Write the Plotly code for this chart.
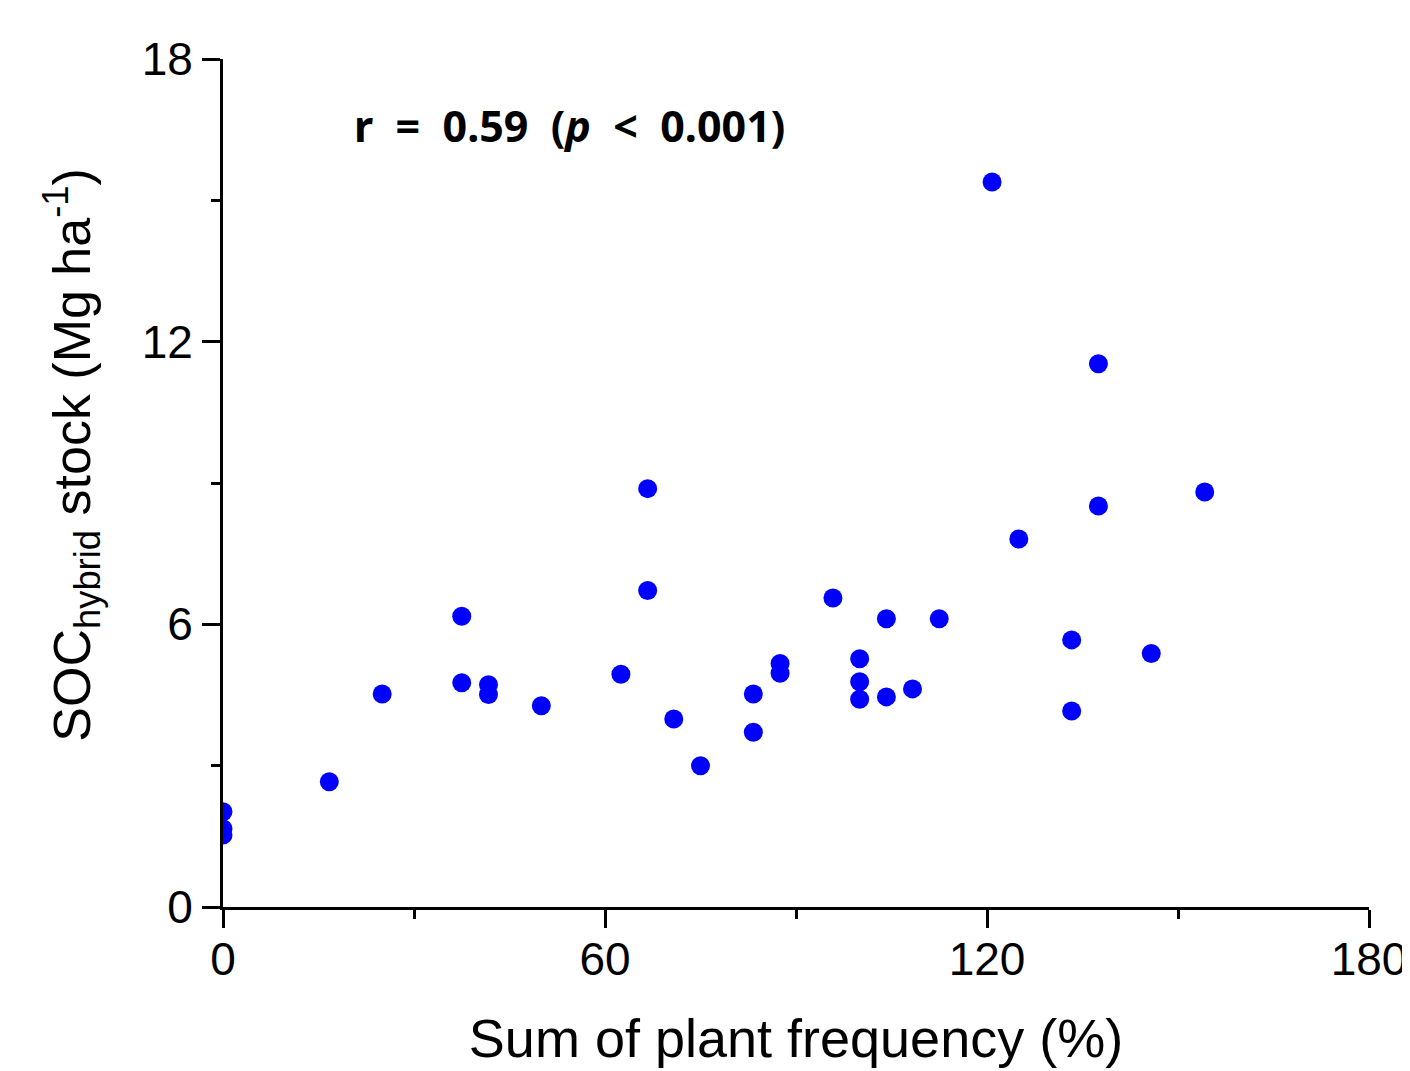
import plotly.graph_objects as go

# Data
plant_frequency = [0, 0, 0, 16.7, 25, 37.5, 37.5, 41.7, 41.7, 50, 62.5, 66.7, 66.7,
                   70.8, 75, 83.3, 83.3, 87.5, 87.5, 95.8, 100, 100, 100, 104.2, 104.2,
                   108.3, 112.5, 120.8, 125, 133.3, 133.3, 137.5, 137.5, 145.8, 154.2]
soc_hybrid = [2.02, 1.66, 1.53, 2.66, 4.52, 6.17, 4.76, 4.72, 4.51, 4.27, 4.94, 8.88, 6.72,
              3.99, 3.00, 4.52, 3.71, 5.17, 4.96, 6.56, 5.27, 4.78, 4.41, 6.12, 4.46,
              4.63, 6.12, 15.39, 7.81, 5.67, 4.16, 11.53, 8.51, 5.38, 8.81]

x_ticks = [0, 60, 120, 180]
y_ticks = [0, 6, 12, 18]
sp = "\u00a0\u00a0"
annotation_text = f"<b>r{sp}={sp}0.59{sp}(<i>p</i>{sp}&lt;{sp}0.001)</b>"
y_title = "SOC<sub>hybrid</sub> stock (Mg ha<sup>-1</sup>)"
x_title = "Sum of plant frequency (%)"

fig = go.Figure()
fig.add_trace(go.Scatter(
    x=plant_frequency, y=soc_hybrid, mode="markers",
    marker=dict(size=19, color="#0000FF", line=dict(width=0)),
    cliponaxis=True, showlegend=False,
))

axis_font = dict(family="Liberation Sans, Arial, sans-serif", size=46, color="black")
title_font = dict(family="Liberation Sans, Arial, sans-serif", size=54, color="black")

fig.update_layout(
    width=1402, height=1063,
    margin=dict(l=215, r=41, t=51, b=164, pad=0),
    paper_bgcolor="white", plot_bgcolor="white",
    xaxis=dict(
        range=[0, 180], tickvals=x_ticks, ticktext=[str(v) for v in x_ticks],
        automargin=False,
        showgrid=False, zeroline=False, showline=True, linecolor="black", linewidth=3,
        ticks="outside", ticklen=18, tickwidth=3, tickcolor="black",
        tickfont=axis_font, ticklabelstandoff=-8,
        minor=dict(tickvals=[30, 90, 150], ticks="outside", ticklen=9, tickwidth=3,
                   tickcolor="black", showgrid=False),
        title=dict(text=x_title, font=title_font, standoff=35),
    ),
    yaxis=dict(
        range=[0, 18], tickvals=y_ticks, ticktext=[str(v) for v in y_ticks],
        automargin=False,
        showgrid=False, zeroline=False, showline=True, linecolor="black", linewidth=3,
        ticks="outside", ticklen=18, tickwidth=3, tickcolor="black",
        tickfont=axis_font,
        minor=dict(tickvals=[3, 9, 15], ticks="outside", ticklen=9, tickwidth=3,
                   tickcolor="black", showgrid=False),
    ),
    annotations=[
        dict(
            text=annotation_text, xref="paper", yref="paper",
            x=0.113, y=0.922, xanchor="left", yanchor="middle", showarrow=False,
            font=dict(family="Noto Sans, Open Sans, sans-serif", size=43, color="black"),
        ),
        dict(
            text=y_title, xref="paper", yref="paper", textangle=-90,
            x=-0.132, y=0.533, xanchor="center", yanchor="middle", showarrow=False,
            font=dict(family="Liberation Sans, Arial, sans-serif", size=52, color="black"),
        ),
    ],
)

fig.write_html("out.html")
